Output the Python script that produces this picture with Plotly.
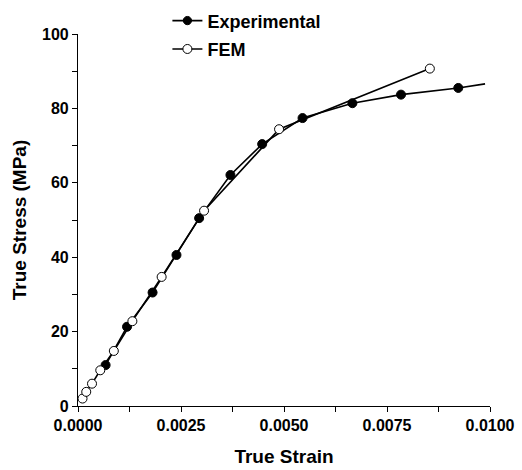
import plotly.graph_objects as go

exp_strain = [0.00067, 0.00119, 0.00181, 0.00239, 0.00294, 0.00370, 0.00447, 0.00545, 0.00666, 0.00784, 0.00923, 0.00988]
exp_stress = [11.0, 21.3, 30.5, 40.6, 50.5, 62.1, 70.4, 77.4, 81.4, 83.7, 85.5, 86.6]
exp_marker_size = [9, 9, 9, 9, 9, 9, 9, 9, 9, 9, 9, 0]

fem_strain = [0.00011, 0.00020, 0.00034, 0.00054, 0.00087, 0.00132, 0.00203, 0.00306, 0.00488, 0.00854]
fem_stress = [2.0, 3.8, 6.0, 9.6, 14.8, 22.8, 34.7, 52.5, 74.4, 90.7]

x_ticks = [0.0, 0.0025, 0.005, 0.0075, 0.01]
x_tick_labels = ["0.0000", "0.0025", "0.0050", "0.0075", "0.0100"]
y_ticks = [0, 20, 40, 60, 80, 100]

FONT = "Liberation Sans, Arial, sans-serif"

fig = go.Figure()
fig.add_trace(go.Scatter(
    x=exp_strain, y=exp_stress, mode="lines+markers", name="Experimental",
    legendgroup="a",
    line=dict(color="black", width=1.6),
    marker=dict(symbol="circle", size=exp_marker_size, color="black", opacity=1,
                line=dict(color="black", width=1)),
))
fig.add_trace(go.Scatter(
    x=fem_strain, y=fem_stress, mode="lines+markers", name="FEM",
    legendgroup="b",
    line=dict(color="black", width=1.6),
    marker=dict(symbol="circle", size=9, color="white", opacity=1,
                line=dict(color="black", width=1)),
))

axis_common = dict(
    showline=True, linecolor="black", linewidth=1.2,
    ticks="outside", ticklen=5, tickwidth=1, tickcolor="black",
    showgrid=False, zeroline=False, automargin=False,
    tickfont=dict(family=FONT, size=16, color="black", weight="bold"),
)

fig.update_xaxes(
    range=[0, 0.0100], tickvals=x_ticks, ticktext=x_tick_labels,
    minor=dict(dtick=0.00125, tick0=0, ticks="outside", ticklen=5, tickwidth=1, tickcolor="black"),
    title=dict(text="True Strain", font=dict(family=FONT, size=19, color="black", weight="bold"), standoff=16),
    **axis_common,
)
fig.update_yaxes(
    range=[0, 100], tickvals=y_ticks,
    minor=dict(dtick=10, tick0=0, ticks="outside", ticklen=5, tickwidth=1, tickcolor="black"),
    title=dict(text="True Stress (MPa)", font=dict(family=FONT, size=19, color="black", weight="bold"), standoff=10),
    **axis_common,
)

fig.update_layout(
    width=522, height=470,
    margin=dict(l=78, r=32, t=34, b=64, autoexpand=False),
    paper_bgcolor="white", plot_bgcolor="white",
    showlegend=True,
    legend=dict(
        x=0.217, y=1.085, xanchor="left", yanchor="top",
        bgcolor="rgba(0,0,0,0)", tracegroupgap=2, itemwidth=30,
        font=dict(family=FONT, size=18, color="black", weight="bold"),
    ),
)

fig.write_html("out.html")
